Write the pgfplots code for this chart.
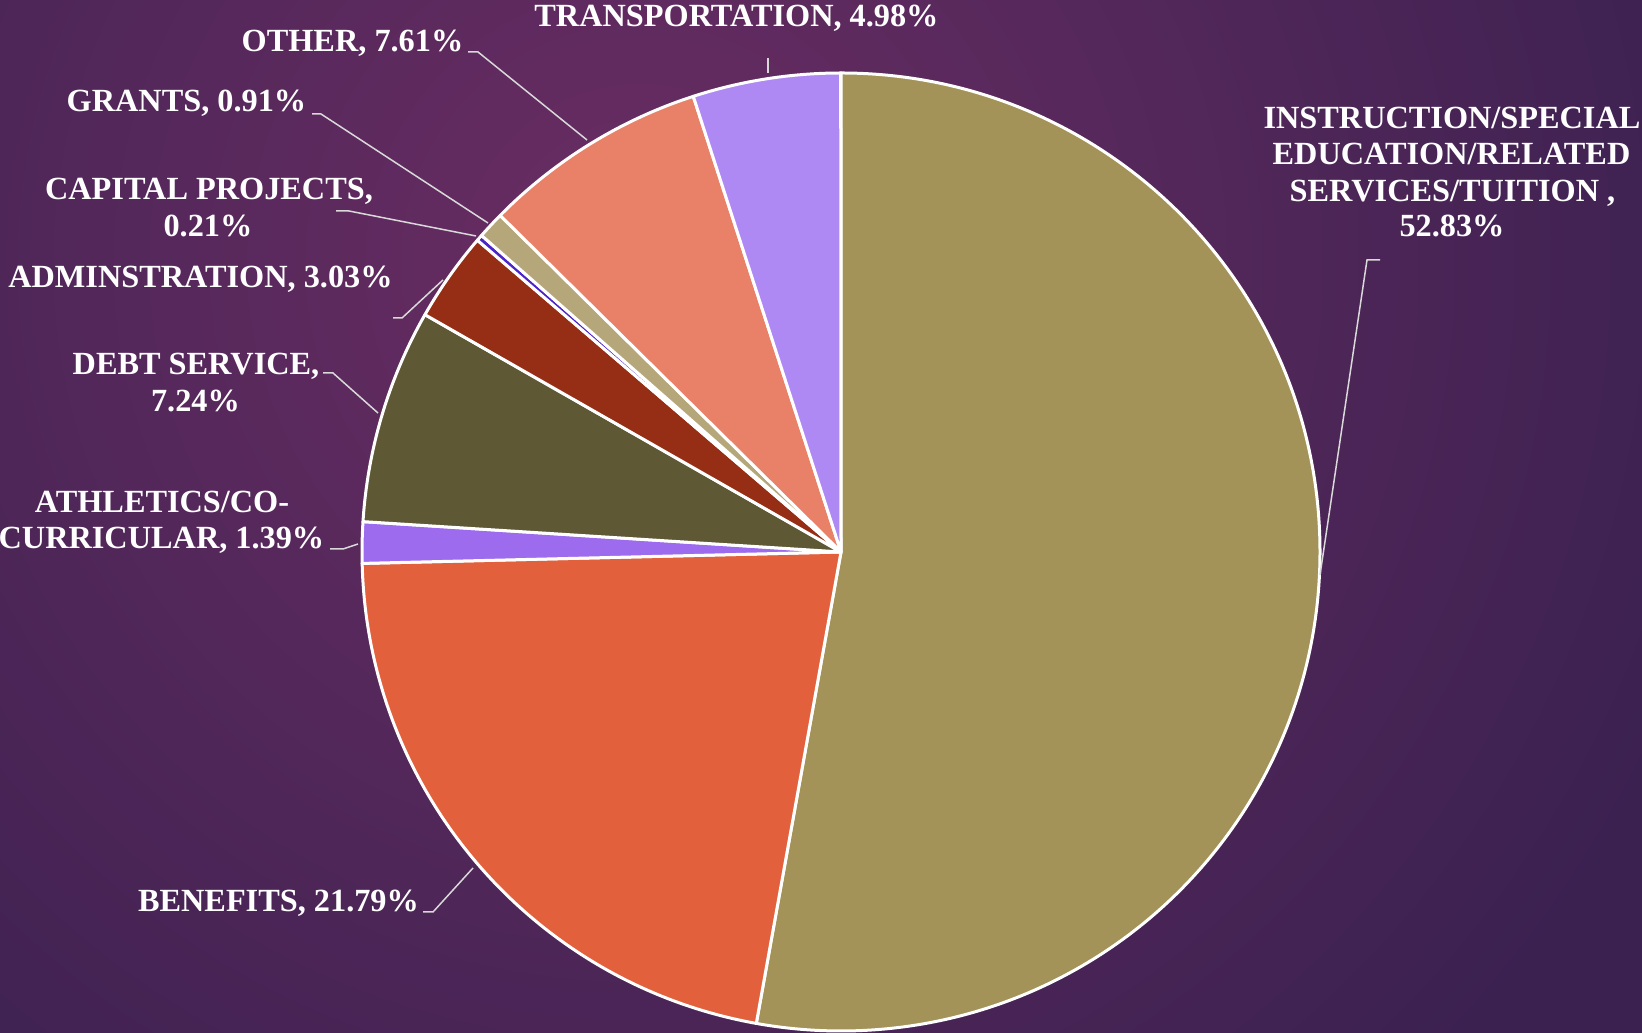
\documentclass[border=0pt]{standalone}
\usepackage{fontspec}
\setmainfont{Liberation Serif}
\usepackage{pgfplots}
\usepackage{pgfplotstable}
\pgfplotsset{compat=1.18}
\definecolor{cInstr}{HTML}{A39358}
\definecolor{cBen}{HTML}{E2603C}
\definecolor{cAth}{HTML}{9D6CEE}
\definecolor{cDebt}{HTML}{5F5834}
\definecolor{cAdm}{HTML}{952E14}
\definecolor{cCap}{HTML}{4B25C8}
\definecolor{cGra}{HTML}{B6A77B}
\definecolor{cOth}{HTML}{E88168}
\definecolor{cTra}{HTML}{AF89F3}
\definecolor{bgIn}{HTML}{6A2D63}
\definecolor{bgOut}{HTML}{3A2150}
\definecolor{leader}{HTML}{D9D9D9}
\tikzset{lbl/.style={anchor=base, inner sep=0pt, text=white, font=\fontsize{32.3}{37}\selectfont\bfseries}}
\pgfplotstableread[col sep=comma]{
name,value,color
Instruction,52.83,cInstr
Benefits,21.79,cBen
Athletics,1.39,cAth
Debt,7.24,cDebt
Admin,3.03,cAdm
Capital,0.21,cCap
Grants,0.91,cGra
Other,7.61,cOth
Transportation,4.98,cTra
}\piedata
\begin{document}
\begin{tikzpicture}[x=1pt,y=1pt]
\fill[bgOut] (0,0) rectangle (1642,1033);
\begin{scope}
\clip (0,0) rectangle (1642,1033);
\shade[inner color=bgIn, outer color=bgOut] (640,770) circle (1150);
\end{scope}
\begin{axis}[at={(0,0)}, anchor=south west, scale only axis, width=1642pt, height=1033pt,
  xmin=0, xmax=1642, ymin=0, ymax=1033, hide axis, clip=false]
\pgfplotstablegetrowsof{\piedata}
\pgfmathtruncatemacro\nrows{\pgfplotsretval-1}
\def\cum{0}
\pgfplotsforeachungrouped \i in {0,...,\nrows}{%
  \pgfplotstablegetelem{\i}{value}\of\piedata \let\val\pgfplotsretval
  \pgfplotstablegetelem{\i}{color}\of\piedata \let\col\pgfplotsretval
  \pgfmathsetmacro\angA{90-3.6*\cum}%
  \pgfmathsetmacro\angB{90-3.6*(\cum+\val)}%
  \edef\temp{\noexpand\filldraw[fill=\col, draw=white, line width=3pt, line join=round]
    (axis cs:841,481) -- ++(\angA:479pt) arc[start angle=\angA, end angle=\angB, radius=479pt] -- cycle;}%
  \temp
  \pgfmathsetmacro\cum{\cum+\val}%
}
% leader lines
\draw[leader, line width=1.5pt] (axis cs:768,975) -- (axis cs:768,960);
\draw[leader, line width=1.5pt] (axis cs:468,981) -- (axis cs:478,981) -- (axis cs:587,893);
\draw[leader, line width=1.5pt] (axis cs:312,919) -- (axis cs:321,919) -- (axis cs:488,810);
\draw[leader, line width=1.5pt] (axis cs:336,822) -- (axis cs:349,822) -- (axis cs:476,797);
\draw[leader, line width=1.5pt] (axis cs:393,715) -- (axis cs:402,715) -- (axis cs:443,753);
\draw[leader, line width=1.5pt] (axis cs:323,660) -- (axis cs:333,660) -- (axis cs:378,620);
\draw[leader, line width=1.5pt] (axis cs:330,484) -- (axis cs:343,484) -- (axis cs:358,489);
\draw[leader, line width=1.5pt] (axis cs:423,121) -- (axis cs:433,121) -- (axis cs:473,165);
\draw[leader, line width=1.5pt] (axis cs:1380,773) -- (axis cs:1367,773) -- (axis cs:1320,458);
% labels
\node[lbl] at (axis cs:736.5,1006) {TRANSPORTATION, 4.98\%};
\node[lbl] at (axis cs:352.5,981) {OTHER, 7.61\%};
\node[lbl] at (axis cs:186.5,921) {GRANTS, 0.91\%};
\node[lbl] at (axis cs:209,833) {CAPITAL PROJECTS,};
\node[lbl] at (axis cs:208,796) {0.21\%};
\node[lbl] at (axis cs:200.5,745) {ADMINSTRATION, 3.03\%};
\node[lbl] at (axis cs:196,658) {DEBT SERVICE,};
\node[lbl] at (axis cs:195.5,621) {7.24\%};
\node[lbl] at (axis cs:162,520) {ATHLETICS/CO-};
\node[lbl] at (axis cs:161.5,484) {CURRICULAR, 1.39\%};
\node[lbl] at (axis cs:278.5,121) {BENEFITS, 21.79\%};
\node[lbl] at (axis cs:1452,904) {INSTRUCTION/SPECIAL};
\node[lbl] at (axis cs:1451.5,868) {EDUCATION/RELATED};
\node[lbl] at (axis cs:1452.5,831) {SERVICES/TUITION ,};
\node[lbl] at (axis cs:1452,796) {52.83\%};
\end{axis}
\pgfresetboundingbox
\path[use as bounding box] (0,0) rectangle (1642,1033);
\end{tikzpicture}
\end{document}
